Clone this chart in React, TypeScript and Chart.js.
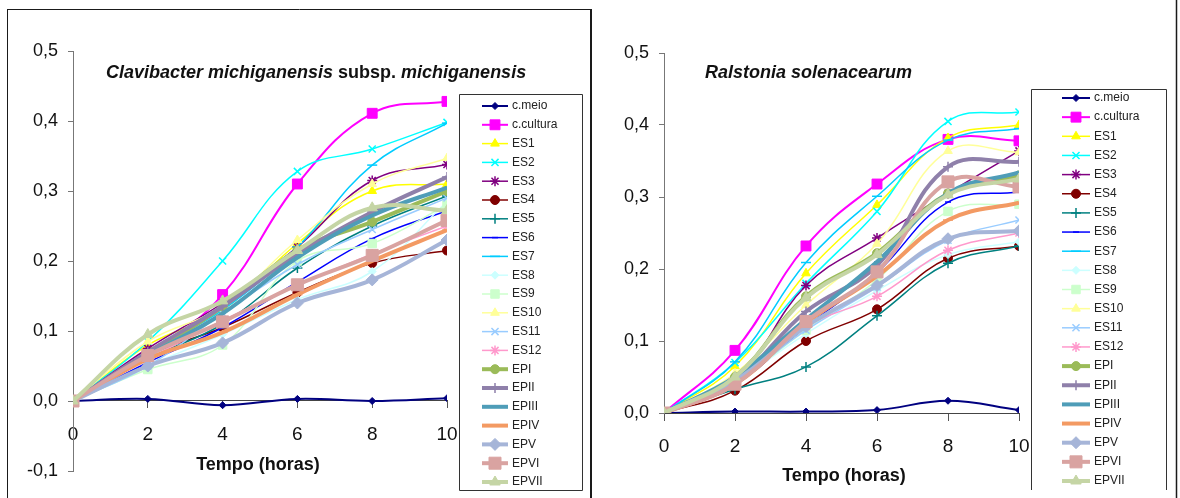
import React, { useEffect, useRef } from 'react';
import { Chart, registerables, PointElement } from 'chart.js';

Chart.register(...registerables);

// ---------- data ----------
const hours = [0, 2, 4, 6, 8, 10];
const yTicksLeft = [-0.1, 0, 0.1, 0.2, 0.3, 0.4, 0.5];
const yTicksRight = [0, 0.1, 0.2, 0.3, 0.4, 0.5];

const seriesNames = [
  'c.meio', 'c.cultura', 'ES1', 'ES2', 'ES3', 'ES4', 'ES5', 'ES6', 'ES7', 'ES8', 'ES9', 'ES10',
  'ES11', 'ES12', 'EPI', 'EPII', 'EPIII', 'EPIV', 'EPV', 'EPVI', 'EPVII',
];

// Clavibacter michiganensis subsp. michiganensis
const cmmCMeio = [0, 0.003, -0.006, 0.003, 0.0, 0.004];
const cmmCCultura = [0, 0.065, 0.152, 0.31, 0.411, 0.428];
const cmmES1 = [0, 0.08, 0.13, 0.225, 0.3, 0.31];
const cmmES2 = [0, 0.085, 0.2, 0.328, 0.36, 0.398];
const cmmES3 = [0, 0.075, 0.14, 0.22, 0.315, 0.338];
const cmmES4 = [0, 0.065, 0.105, 0.155, 0.197, 0.215];
const cmmES5 = [0, 0.06, 0.11, 0.19, 0.25, 0.293];
const cmmES6 = [0, 0.055, 0.105, 0.17, 0.232, 0.272];
const cmmES7 = [0, 0.07, 0.13, 0.22, 0.337, 0.397];
const cmmES8 = [0, 0.05, 0.095, 0.145, 0.185, 0.285];
const cmmES9 = [0, 0.045, 0.08, 0.2, 0.225, 0.28];
const cmmES10 = [0, 0.085, 0.135, 0.23, 0.31, 0.347];
const cmmES11 = [0, 0.05, 0.125, 0.195, 0.245, 0.29];
const cmmES12 = [0, 0.06, 0.115, 0.165, 0.21, 0.25];
const cmmEPI = [0, 0.065, 0.135, 0.215, 0.256, 0.3];
const cmmEPII = [0, 0.07, 0.135, 0.21, 0.27, 0.32];
const cmmEPIII = [0, 0.065, 0.125, 0.205, 0.265, 0.305];
const cmmEPIV = [0, 0.06, 0.098, 0.152, 0.2, 0.244];
const cmmEPV = [0, 0.05, 0.083, 0.14, 0.173, 0.23];
const cmmEPVI = [0, 0.065, 0.113, 0.166, 0.208, 0.258];
const cmmEPVII = [0, 0.095, 0.143, 0.215, 0.276, 0.272];

// Ralstonia solenacearum
const rsCMeio = [0, 0.002, 0.002, 0.004, 0.017, 0.004];
const rsCCultura = [0, 0.087, 0.232, 0.318, 0.38, 0.378];
const rsES1 = [0, 0.065, 0.194, 0.289, 0.382, 0.4];
const rsES2 = [0, 0.07, 0.18, 0.28, 0.405, 0.418];
const rsES3 = [0, 0.045, 0.177, 0.243, 0.305, 0.364];
const rsES4 = [0, 0.031, 0.1, 0.144, 0.215, 0.232];
const rsES5 = [0, 0.033, 0.064, 0.135, 0.208, 0.232];
const rsES6 = [0, 0.04, 0.12, 0.195, 0.293, 0.307];
const rsES7 = [0, 0.071, 0.209, 0.301, 0.379, 0.395];
const rsES8 = [0, 0.045, 0.11, 0.17, 0.22, 0.238];
const rsES9 = [0, 0.045, 0.115, 0.185, 0.28, 0.29];
const rsES10 = [0, 0.055, 0.15, 0.235, 0.364, 0.362];
const rsES11 = [0, 0.045, 0.115, 0.175, 0.24, 0.268];
const rsES12 = [0, 0.04, 0.12, 0.162, 0.226, 0.25];
const rsEPI = [0, 0.05, 0.162, 0.222, 0.305, 0.33];
const rsEPII = [0, 0.045, 0.141, 0.205, 0.342, 0.349];
const rsEPIII = [0, 0.05, 0.13, 0.21, 0.305, 0.334];
const rsEPIV = [0, 0.04, 0.125, 0.19, 0.268, 0.292];
const rsEPV = [0, 0.045, 0.12, 0.177, 0.242, 0.253];
const rsEPVI = [0, 0.04, 0.127, 0.196, 0.321, 0.314];
const rsEPVII = [0, 0.05, 0.16, 0.22, 0.303, 0.325];

const cmmSeries = [
  cmmCMeio, cmmCCultura, cmmES1, cmmES2, cmmES3, cmmES4, cmmES5, cmmES6, cmmES7, cmmES8, cmmES9,
  cmmES10, cmmES11, cmmES12, cmmEPI, cmmEPII, cmmEPIII, cmmEPIV, cmmEPV, cmmEPVI, cmmEPVII,
];
const rsSeries = [
  rsCMeio, rsCCultura, rsES1, rsES2, rsES3, rsES4, rsES5, rsES6, rsES7, rsES8, rsES9,
  rsES10, rsES11, rsES12, rsEPI, rsEPII, rsEPIII, rsEPIV, rsEPV, rsEPVI, rsEPVII,
];

// ---------- styles ----------
const seriesColors = [
  '#000080', '#FF00FF', '#FFFF00', '#00FFFF', '#800080', '#800000', '#008080', '#0000FF',
  '#00CCFF', '#CCFFFF', '#CCFFCC', '#FFFF99', '#99CCFF', '#FF99CC',
  '#9BBB59', '#8F80AA', '#4F9DB8', '#F39A63', '#A6B5D8', '#D9A3A1', '#C5D5A5',
];
const seriesMarkers = [
  'rectRot', 'rect', 'triangle', 'crossRot', 'star', 'circle', 'cross', 'line', 'line',
  'rectRot', 'rect', 'triangle', 'crossRot', 'star', 'circle', 'cross', 'line', 'line',
  'rectRot', 'rect', 'triangle',
];
const seriesMarkerRadius = [
  3.5, 7, 5, 5, 5, 4.5, 5, 3, 5,
  4, 6, 5, 5, 5, 4.5, 5, 3, 5,
  6, 8.5, 6,
];
const seriesLineWidths = [
  2, 2, 1.5, 1.5, 1.5, 1.5, 1.5, 1.5, 1.5, 1.5, 1.5, 1.5, 1.5, 1.5,
  4, 4, 4, 4, 4, 4, 4,
];

const FONT = '"Liberation Sans", Arial, Helvetica, sans-serif';

type Seg = { text: string; italic: boolean };
type PanelCfg = {
  left: number;
  width: number;
  series: number[][];
  yTicks: number[];
  pad: { left: number; right: number; top: number; bottom: number };
  yAxisWidth: number;
  title: Seg[];
  titleX: number;
  titleY: number;
  xLabelX: number;
  xLabelY: number;
  legend: {
    boxL: number; boxR: number; boxT: number; boxB: number; drawBottom: boolean;
    lineX1: number; lineX2: number; textX: number; rowY0: number; rowStep: number;
  };
  frame: [number, number, number, number, number][];
};

const leftCfg: PanelCfg = {
  left: 0,
  width: 592,
  series: cmmSeries,
  yTicks: yTicksLeft,
  pad: { left: 0, right: 145, top: 51, bottom: 27 },
  yAxisWidth: 73,
  title: [
    { text: 'Clavibacter michiganensis', italic: true },
    { text: ' subsp. ', italic: false },
    { text: 'michiganensis', italic: true },
  ],
  titleX: 106,
  titleY: 78,
  xLabelX: 258,
  xLabelY: 465,
  legend: {
    boxL: 459.5, boxR: 582.5, boxT: 94.5, boxB: 490.5, drawBottom: true,
    lineX1: 482, lineX2: 508, textX: 512, rowY0: 106, rowStep: 18.8,
  },
  frame: [
    [7, 9.5, 592, 9.5, 1],
    [7.5, 9, 7.5, 498, 1],
    [591, 9, 591, 498, 2],
  ],
};

const rightCfg: PanelCfg = {
  left: 592,
  width: 588,
  series: rsSeries,
  yTicks: yTicksRight,
  pad: { left: 0, right: 161, top: 53, bottom: 85 },
  yAxisWidth: 72,
  title: [{ text: 'Ralstonia solenacearum', italic: true }],
  titleX: 113,
  titleY: 78,
  xLabelX: 252,
  xLabelY: 476,
  legend: {
    boxL: 439.5, boxR: 574.5, boxT: 89.5, boxB: 490, drawBottom: false,
    lineX1: 470, lineX2: 498, textX: 502, rowY0: 98, rowStep: 19.15,
  },
  frame: [[584.5, 0, 584.5, 498, 1.5]],
};

function makeDecor(cfg: PanelCfg) {
  return {
    id: 'panelDecor',
    afterDraw(chart: any) {
      const ctx: CanvasRenderingContext2D = chart.ctx;
      ctx.save();
      // frame
      ctx.strokeStyle = '#1a1a1a';
      cfg.frame.forEach(([x1, y1, x2, y2, w]) => {
        ctx.lineWidth = w;
        ctx.beginPath();
        ctx.moveTo(x1, y1);
        ctx.lineTo(x2, y2);
        ctx.stroke();
      });
      // title (mixed italic / upright)
      ctx.fillStyle = '#111';
      ctx.textBaseline = 'alphabetic';
      ctx.textAlign = 'left';
      let tx = cfg.titleX;
      cfg.title.forEach((seg) => {
        ctx.font = `${seg.italic ? 'italic ' : ''}bold 18px ${FONT}`;
        ctx.fillText(seg.text, tx, cfg.titleY);
        tx += ctx.measureText(seg.text).width;
      });
      // x axis title
      ctx.font = `bold 18px ${FONT}`;
      ctx.textAlign = 'center';
      ctx.textBaseline = 'middle';
      ctx.fillText('Tempo (horas)', cfg.xLabelX, cfg.xLabelY);
      // legend
      const L = cfg.legend;
      ctx.fillStyle = '#fff';
      ctx.fillRect(L.boxL, L.boxT, L.boxR - L.boxL, L.boxB - L.boxT);
      ctx.strokeStyle = '#333';
      ctx.lineWidth = 1;
      ctx.beginPath();
      ctx.moveTo(L.boxL, L.boxB);
      ctx.lineTo(L.boxL, L.boxT);
      ctx.lineTo(L.boxR, L.boxT);
      ctx.lineTo(L.boxR, L.boxB);
      if (L.drawBottom) ctx.lineTo(L.boxL, L.boxB);
      ctx.stroke();
      chart.data.datasets.forEach((ds: any, i: number) => {
        const y = L.rowY0 + i * L.rowStep;
        ctx.strokeStyle = ds.borderColor;
        ctx.lineWidth = ds.borderWidth;
        ctx.beginPath();
        ctx.moveTo(L.lineX1, y);
        ctx.lineTo(L.lineX2, y);
        ctx.stroke();
        const meta = chart.getDatasetMeta(i);
        const el = meta.data[0];
        if (el && el.options) {
          const p: any = new (PointElement as any)({ x: (L.lineX1 + L.lineX2) / 2, y, options: el.options });
          p.draw(ctx);
        }
        ctx.fillStyle = '#222';
        ctx.font = `12px ${FONT}`;
        ctx.textAlign = 'left';
        ctx.textBaseline = 'middle';
        ctx.fillText(ds.label, L.textX, y);
      });
      ctx.restore();
    },
  };
}

function buildDatasets(series: number[][]) {
  return series.map((vals, i) => {
    const stroked = ['crossRot', 'cross', 'star', 'line'].includes(seriesMarkers[i]);
    return {
      label: seriesNames[i],
      data: vals.map((v, j) => ({ x: hours[j], y: v })),
      borderColor: seriesColors[i],
      backgroundColor: seriesColors[i],
      borderWidth: seriesLineWidths[i],
      pointStyle: seriesMarkers[i],
      pointRadius: seriesMarkerRadius[i],
      pointBorderWidth: stroked ? 1.5 : 1,
      pointBorderColor: seriesColors[i],
      pointBackgroundColor: seriesColors[i],
      tension: 0.4,
      fill: false,
      order: series.length - i,
    };
  });
}

function Panel({ cfg }: { cfg: PanelCfg }) {
  const ref = useRef<HTMLCanvasElement>(null);
  useEffect(() => {
    const canvas = ref.current!;
    const yMin = cfg.yTicks[0];
    const yMax = cfg.yTicks[cfg.yTicks.length - 1];
    const chart = new Chart(canvas, {
      type: 'line',
      data: { datasets: buildDatasets(cfg.series) as any },
      options: {
        responsive: false,
        animation: false,
        devicePixelRatio: 1,
        events: [],
        layout: { padding: cfg.pad },
        plugins: { legend: { display: false }, tooltip: { enabled: false }, title: { display: false } },
        scales: {
          x: {
            type: 'linear',
            min: 0,
            max: 10,
            position: { y: 0 } as any,
            ticks: {
              stepSize: 2,
              autoSkip: false,
              maxRotation: 0,
              font: { size: 19, family: FONT },
              color: '#111',
              padding: 15,
            },
            grid: { drawOnChartArea: false, drawTicks: true, tickLength: 7, color: '#555' },
            border: { display: true, color: '#444', width: 1 },
          },
          y: {
            type: 'linear',
            min: yMin,
            max: yMax,
            position: 'left',
            ticks: {
              stepSize: 0.1,
              font: { size: 18, family: FONT },
              color: '#111',
              padding: 10,
              callback: (v: any) => {
                const n = Math.abs(Number(v)) < 1e-9 ? 0 : Number(v);
                return n.toFixed(1).replace('.', ',');
              },
            },
            grid: { drawOnChartArea: false, drawTicks: true, tickLength: 5, color: '#777' },
            border: { display: true, color: '#777', width: 1 },
            afterFit: (s: any) => { s.width = cfg.yAxisWidth; },
          },
        },
      },
      plugins: [makeDecor(cfg)],
    });
    return () => chart.destroy();
  }, [cfg]);
  return (
    <canvas
      ref={ref}
      width={cfg.width}
      height={498}
      style={{ position: 'absolute', left: cfg.left, top: 0, width: cfg.width, height: 498, display: 'block' }}
    />
  );
}

export default function App() {
  return (
    <div style={{ position: 'absolute', left: 0, top: 0, width: 1180, height: 498, background: '#fff', overflow: 'hidden' }}>
      <Panel cfg={leftCfg} />
      <Panel cfg={rightCfg} />
    </div>
  );
}
